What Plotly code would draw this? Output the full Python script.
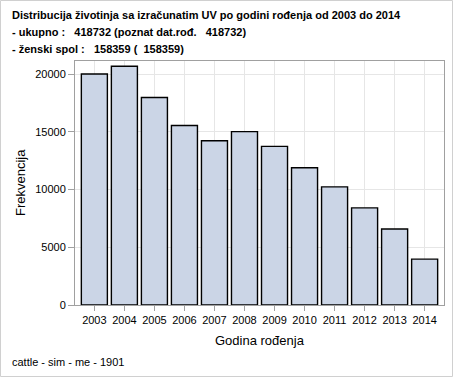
import plotly.graph_objects as go

years = ["2003", "2004", "2005", "2006", "2007", "2008", "2009", "2010", "2011", "2012", "2013", "2014"]
counts = [20000, 20670, 17970, 15540, 14230, 15010, 13740, 11890, 10230, 8410, 6580, 3970]
y_ticks = [0, 5000, 10000, 15000, 20000]

title_lines = [
    "Distribucija životinja sa izračunatim UV po godini rođenja od 2003 do 2014",
    "- ukupno :\u00a0\u00a0 418732 (poznat dat.rođ.\u00a0\u00a0 418732)",
    "- ženski spol :\u00a0\u00a0 158359 (\u00a0 158359)",
]
x_title = "Godina rođenja"
y_title = "Frekvencija"
footnote = "cattle - sim - me - 1901"

FONT = "Liberation Sans, Arial, sans-serif"
W, H = 454, 378
ML, MR, MT, MB = 75, 10, 61, 73
pw = W - ML - MR
ph = H - MT - MB


def px_x(x):
    return (x - ML) / pw


def px_y(y):
    return (MT + ph - y) / ph


fig = go.Figure()
fig.add_trace(go.Bar(
    x=list(range(len(years))), y=counts,
    width=0.867,
    marker=dict(color="#cbd5e6", line=dict(color="#000000", width=1.4)),
    hoverinfo="x+y",
))

annotations = []
for txt, yc in zip(title_lines, [15, 32, 49]):
    annotations.append(dict(
        text=f"<b>{txt}</b>", xref="paper", yref="paper",
        x=px_x(10), y=px_y(yc),
        xanchor="left", yanchor="middle", showarrow=False,
        font=dict(family=FONT, size=11, color="#000000"),
    ))
annotations.append(dict(
    text=footnote, xref="paper", yref="paper",
    x=px_x(10), y=px_y(362),
    xanchor="left", yanchor="middle", showarrow=False,
    font=dict(family=FONT, size=11, color="#000000"),
))
annotations.append(dict(
    text=x_title, xref="paper", yref="paper",
    x=0.5, y=px_y(340),
    xanchor="center", yanchor="middle", showarrow=False,
    font=dict(family=FONT, size=13, color="#000000"),
))
annotations.append(dict(
    text=y_title, xref="paper", yref="paper",
    x=px_x(20), y=0.5, textangle=-90,
    xanchor="center", yanchor="middle", showarrow=False,
    font=dict(family=FONT, size=13, color="#000000"),
))

fig.update_layout(
    width=W, height=H, autosize=False,
    margin=dict(l=ML, r=MR, t=MT, b=MB, pad=0),
    paper_bgcolor="#ffffff", plot_bgcolor="#ffffff",
    showlegend=False,
    font=dict(family=FONT, size=11, color="#000000"),
    annotations=annotations,
    shapes=[dict(type="rect", xref="paper", yref="paper",
                 x0=px_x(0.5), x1=px_x(W - 1.5),
                 y0=px_y(H - 1.5), y1=px_y(0.5),
                 line=dict(color="#d0d0d0", width=1), layer="below")],
    xaxis=dict(
        range=[-0.645, 11.645], automargin=False,
        tickmode="array", tickvals=list(range(len(years))), ticktext=years,
        showgrid=True, gridcolor="#e6e6e6", gridwidth=1,
        showline=True, linecolor="#a0a0a0", linewidth=1, mirror=True,
        ticks="outside", ticklen=5, tickcolor="#a0a0a0",
        tickfont=dict(family=FONT, size=11, color="#000000"),
        zeroline=False, fixedrange=True,
    ),
    yaxis=dict(
        range=[0, 21130], automargin=False,
        tickmode="array", tickvals=y_ticks, ticktext=[str(v) for v in y_ticks],
        showgrid=True, gridcolor="#e6e6e6", gridwidth=1,
        showline=True, linecolor="#a0a0a0", linewidth=1, mirror=True,
        ticks="outside", ticklen=6, tickcolor="#a0a0a0",
        tickfont=dict(family=FONT, size=11, color="#000000"),
        zeroline=False, fixedrange=True,
    ),
)

fig.write_html(
    "out.html",
    config={"displayModeBar": False},
    post_script="document.body.style.margin='0';document.body.style.overflow='hidden';",
)
